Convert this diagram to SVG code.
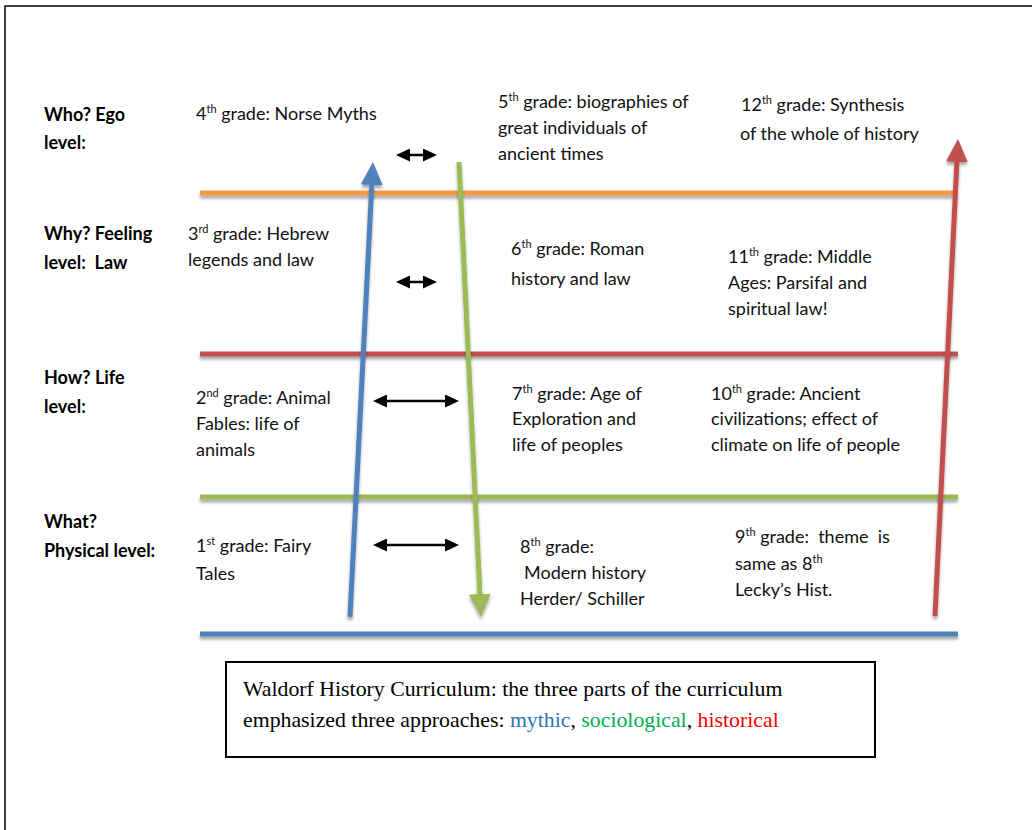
<svg xmlns="http://www.w3.org/2000/svg" width="1032" height="830" viewBox="0 0 1032 830">
<style>
.lbl{font-family:Lato,"Open Sans","Liberation Sans",sans-serif;font-weight:bold;font-size:18px;fill:#000}
.txt{font-family:Lato,"Open Sans","Liberation Sans",sans-serif;font-size:18px;fill:#111}
.sup{font-size:11px}
.cap{font-family:"Liberation Serif","Times New Roman",serif;font-size:21.8px;fill:#000}
.lvl{stroke-width:5;fill:none}
.dbl{stroke:#000;stroke-width:2.5;fill:none;marker-start:url(#dh);marker-end:url(#dh)}
</style>
<defs>
<filter id="sh" x="-10%" y="-50%" width="120%" height="200%">
<feDropShadow dx="0" dy="3" stdDeviation="1.5" flood-color="#000" flood-opacity="0.35"/>
</filter>
<marker id="dh" markerUnits="userSpaceOnUse" markerWidth="14" markerHeight="13" refX="0" refY="6.5" orient="auto-start-reverse">
<path d="M0,0 L14,6.5 L0,13 z" fill="#000"/>
</marker>
<marker id="hb" markerUnits="userSpaceOnUse" markerWidth="23" markerHeight="22" refX="0" refY="11" orient="auto">
<path d="M0,0 L23,11 L0,22 z" fill="#4F81BD"/>
</marker>
<marker id="hg" markerUnits="userSpaceOnUse" markerWidth="23" markerHeight="22" refX="0" refY="11" orient="auto">
<path d="M0,0 L23,11 L0,22 z" fill="#9BBB59"/>
</marker>
<marker id="hr" markerUnits="userSpaceOnUse" markerWidth="23" markerHeight="22" refX="0" refY="11" orient="auto">
<path d="M0,0 L23,11 L0,22 z" fill="#C0504D"/>
</marker>
</defs>
<rect width="1032" height="830" fill="#fff"/>
<path d="M5,830 L5,6 L1032,6" fill="none" stroke="#000" stroke-width="1.5"/>

<g id="levels" filter="url(#sh)">
<line class="lvl" x1="200" y1="193" x2="955" y2="193" stroke="#F79646"/>
<line class="lvl" x1="200" y1="354" x2="958" y2="354" stroke="#C0504D"/>
<line class="lvl" x1="200" y1="497" x2="958" y2="497" stroke="#9BBB59"/>
<line class="lvl" x1="200" y1="634" x2="958" y2="634" stroke="#4F81BD"/>
</g>

<g id="connectors">
<g filter="url(#sh)">
<line x1="350" y1="617" x2="371.8" y2="185" stroke="#4F81BD" stroke-width="5" marker-end="url(#hb)"/>
<line x1="459" y1="162" x2="479.9" y2="594" stroke="#9BBB59" stroke-width="5" marker-end="url(#hg)"/>
<line x1="935" y1="616" x2="956.9" y2="162" stroke="#C0504D" stroke-width="5" marker-end="url(#hr)"/>
</g>
<line class="dbl" x1="410" y1="155" x2="423" y2="155"/>
<line class="dbl" x1="410" y1="282" x2="423" y2="282"/>
<line class="dbl" x1="387" y1="401" x2="445" y2="401"/>
<line class="dbl" x1="387" y1="545" x2="445" y2="545"/>
</g>

<g id="label-who">
<text class="lbl" x="44" y="121">Who? Ego</text>
<text class="lbl" x="44" y="149">level:</text>
</g>
<g id="label-why">
<text class="lbl" x="44" y="240">Why? Feeling</text>
<text class="lbl" x="44" y="269" xml:space="preserve">level:  Law</text>
</g>
<g id="label-how">
<text class="lbl" x="44" y="384">How? Life</text>
<text class="lbl" x="44" y="413">level:</text>
</g>
<g id="label-what">
<text class="lbl" x="44" y="528">What?</text>
<text class="lbl" x="44" y="557">Physical level:</text>
</g>

<g id="grade4">
<text class="txt" x="196" y="120">4<tspan class="sup" dy="-7">th</tspan><tspan dy="7"> grade: Norse Myths</tspan></text>
</g>
<g id="grade3">
<text class="txt" x="188" y="240">3<tspan class="sup" dy="-7">rd</tspan><tspan dy="7"> grade: Hebrew</tspan></text>
<text class="txt" x="188" y="266">legends and law</text>
</g>
<g id="grade2">
<text class="txt" x="196" y="404">2<tspan class="sup" dy="-7">nd</tspan><tspan dy="7"> grade: Animal</tspan></text>
<text class="txt" x="196" y="430">Fables: life of</text>
<text class="txt" x="196" y="456">animals</text>
</g>
<g id="grade1">
<text class="txt" x="196" y="552">1<tspan class="sup" dy="-7">st</tspan><tspan dy="7"> grade: Fairy</tspan></text>
<text class="txt" x="196" y="580">Tales</text>
</g>

<g id="grade5">
<text class="txt" x="498" y="108">5<tspan class="sup" dy="-7">th</tspan><tspan dy="7"> grade: biographies of</tspan></text>
<text class="txt" x="498" y="134">great individuals of</text>
<text class="txt" x="498" y="160">ancient times</text>
</g>
<g id="grade6">
<text class="txt" x="511" y="255">6<tspan class="sup" dy="-7">th</tspan><tspan dy="7"> grade: Roman</tspan></text>
<text class="txt" x="511" y="285">history and law</text>
</g>
<g id="grade7">
<text class="txt" x="512" y="400">7<tspan class="sup" dy="-7">th</tspan><tspan dy="7"> grade: Age of</tspan></text>
<text class="txt" x="512" y="425">Exploration and</text>
<text class="txt" x="512" y="451">life of peoples</text>
</g>
<g id="grade8">
<text class="txt" x="520" y="553">8<tspan class="sup" dy="-7">th</tspan><tspan dy="7"> grade:</tspan></text>
<text class="txt" x="524" y="579">Modern history</text>
<text class="txt" x="520" y="605">Herder/ Schiller</text>
</g>

<g id="grade12">
<text class="txt" x="741" y="111">12<tspan class="sup" dy="-7">th</tspan><tspan dy="7"> grade: Synthesis</tspan></text>
<text class="txt" x="740" y="140">of the whole of history</text>
</g>
<g id="grade11">
<text class="txt" x="728" y="263">11<tspan class="sup" dy="-7">th</tspan><tspan dy="7"> grade: Middle</tspan></text>
<text class="txt" x="728" y="289">Ages: Parsifal and</text>
<text class="txt" x="728" y="315">spiritual law!</text>
</g>
<g id="grade10">
<text class="txt" x="711" y="400">10<tspan class="sup" dy="-7">th</tspan><tspan dy="7"> grade: Ancient</tspan></text>
<text class="txt" x="711" y="425">civilizations; effect of</text>
<text class="txt" x="711" y="451">climate on life of people</text>
</g>
<g id="grade9">
<text class="txt" x="735" y="543" xml:space="preserve">9<tspan class="sup" dy="-7">th</tspan><tspan dy="7"> grade:  theme  is</tspan></text>
<text class="txt" x="735" y="570">same as 8<tspan class="sup" dy="-7">th</tspan></text>
<text class="txt" x="735" y="596">Lecky’s Hist.</text>
</g>

<g id="caption">
<rect x="226" y="662" width="649" height="95" fill="#fff" stroke="#000" stroke-width="2"/>
<text class="cap" x="243" y="696">Waldorf History Curriculum: the three parts of the curriculum</text>
<text class="cap" x="243" y="727">emphasized three approaches: <tspan fill="#2E75B6">mythic</tspan>, <tspan fill="#00B050">sociological</tspan>, <tspan fill="#FF0000">historical</tspan></text>
</g>
</svg>
